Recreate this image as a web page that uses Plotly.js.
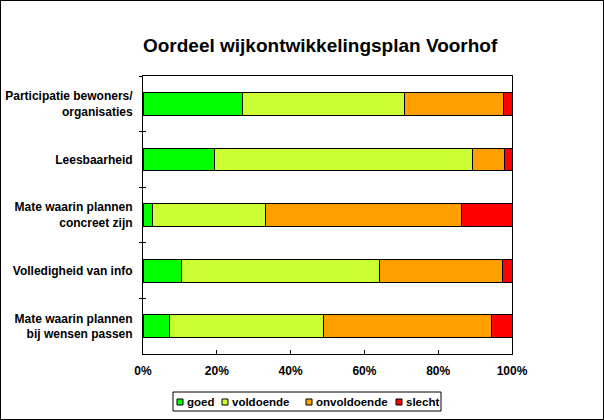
<!DOCTYPE html>
<html>
<head>
<meta charset="utf-8">
<script src="https://cdn.plot.ly/plotly-3.0.1.min.js"></script>
<style>
  html, body { margin: 0; padding: 0; background: #fff; }
  #wrap { position: relative; width: 604px; height: 420px; }
  #chart { width: 604px; height: 420px; }
  #frame { position: absolute; left: 0; top: 0; width: 604px; height: 420px;
           box-sizing: border-box; border: 1px solid #000; pointer-events: none; }
</style>
</head>
<body>
<div id="wrap"><div id="chart"></div><div id="frame"></div></div>
<script>
// ---- data ----
const categories = [
  "Participatie bewoners/<br>organisaties",
  "Leesbaarheid",
  "Mate waarin plannen<br>concreet zijn",
  "Volledigheid van info",
  "Mate waarin plannen<br>bij wensen passen"
];
const seriesNames = ["goed", "voldoende", "onvoldoende", "slecht"];
const goed        = [26.9, 19.3,  2.7, 10.3,  7.1];
const voldoende   = [43.9, 69.9, 30.4, 53.7, 41.7];
const onvoldoende = [26.8, 8.7,  53.1, 33.4, 45.6];
const slecht      = [2.4,  2.1,  13.8,  2.6,  5.6];
const xTickVals   = [0, 20, 40, 60, 80, 100];
const xTickText   = ["0%", "20%", "40%", "60%", "80%", "100%"];

// ---- styles ----
const colors = ["#00ff00", "#ccff33", "#ff9f00", "#ff0000"];
const values = [goed, voldoende, onvoldoende, slecht];
const FONT = "Liberation Sans, Arial, sans-serif";

const traces = values.map((v, i) => ({
  type: "bar",
  orientation: "h",
  name: seriesNames[i],
  x: v,
  y: categories,
  marker: { color: colors[i], line: { color: "#000", width: 1 } },
  showlegend: false,
  hoverinfo: "x+name"
}));
// invisible helper trace so the overlay axis (inner half of crossing ticks) is drawn
traces.push({
  type: "scatter", mode: "none", x: categories.map(() => 0), y: categories,
  yaxis: "y2", showlegend: false, hoverinfo: "skip"
});

// plot-area pixel geometry (for legend placement)
const L = 143, R = 512, T = 76, B = 354;
const px = p => (p - L) / (R - L);
const py = p => (B - p) / (B - T);

// legend built from series names and colours
const legendSquareX = [177, 222, 306, 396];
const legendTop = 392, legendBottom = 411;
const shapes = [{
  type: "rect", xref: "paper", yref: "paper",
  x0: px(173), x1: px(441), y0: py(legendBottom), y1: py(legendTop),
  line: { color: "#000", width: 1 }, fillcolor: "#fff"
}];
const annotations = [];
seriesNames.forEach((n, i) => {
  const sx = legendSquareX[i];
  shapes.push({
    type: "rect", xref: "paper", yref: "paper",
    x0: px(sx), x1: px(sx + 6), y0: py(405), y1: py(399),
    line: { color: "#000", width: 1 }, fillcolor: colors[i]
  });
  annotations.push({
    xref: "paper", yref: "paper", x: px(sx + 8), y: py(401.5),
    xanchor: "left", yanchor: "middle", showarrow: false,
    text: "<b>" + n + "</b>", font: { family: FONT, size: 11.5, color: "#000" }
  });
});

const yCommon = {
  type: "category", autorange: "reversed",
  showgrid: false, zeroline: false, fixedrange: true,
  tickcolor: "#000", tickson: "boundaries", ticklen: 3
};

const layout = {
  width: 604, height: 420,
  margin: { l: L, r: 604 - R, t: T, b: 420 - B, pad: 0 },
  paper_bgcolor: "#fff", plot_bgcolor: "#fff",
  barmode: "stack",
  bargap: 0.59,
  title: {
    text: "<b>Oordeel wijkontwikkelingsplan Voorhof</b>",
    font: { family: FONT, size: 19, color: "#000" },
    x: 0.53, xanchor: "center", y: 0.893, yanchor: "middle"
  },
  xaxis: {
    range: [0, 100], tickvals: xTickVals, ticktext: xTickText,
    showgrid: false, zeroline: false,
    showline: true, linecolor: "#000", linewidth: 1, mirror: true,
    ticks: "inside", ticklen: 4, tickcolor: "#000",
    tickfont: { family: FONT, size: 12, color: "#000", weight: "bold" },
    ticklabelstandoff: 6,
    fixedrange: true
  },
  yaxis: Object.assign({}, yCommon, {
    showline: true, linecolor: "#000", linewidth: 1, mirror: true,
    ticks: "outside",
    tickfont: { family: FONT, size: 12, color: "#000", weight: "bold" },
    ticklabelstandoff: 7
  }),
  yaxis2: Object.assign({}, yCommon, {
    overlaying: "y", side: "left", matches: "y",
    showline: false, ticks: "inside", showticklabels: false
  }),
  shapes: shapes,
  annotations: annotations,
  font: { family: FONT, color: "#000" }
};

Plotly.newPlot("chart", traces, layout, { displayModeBar: false, staticPlot: true });
</script>
</body>
</html>
